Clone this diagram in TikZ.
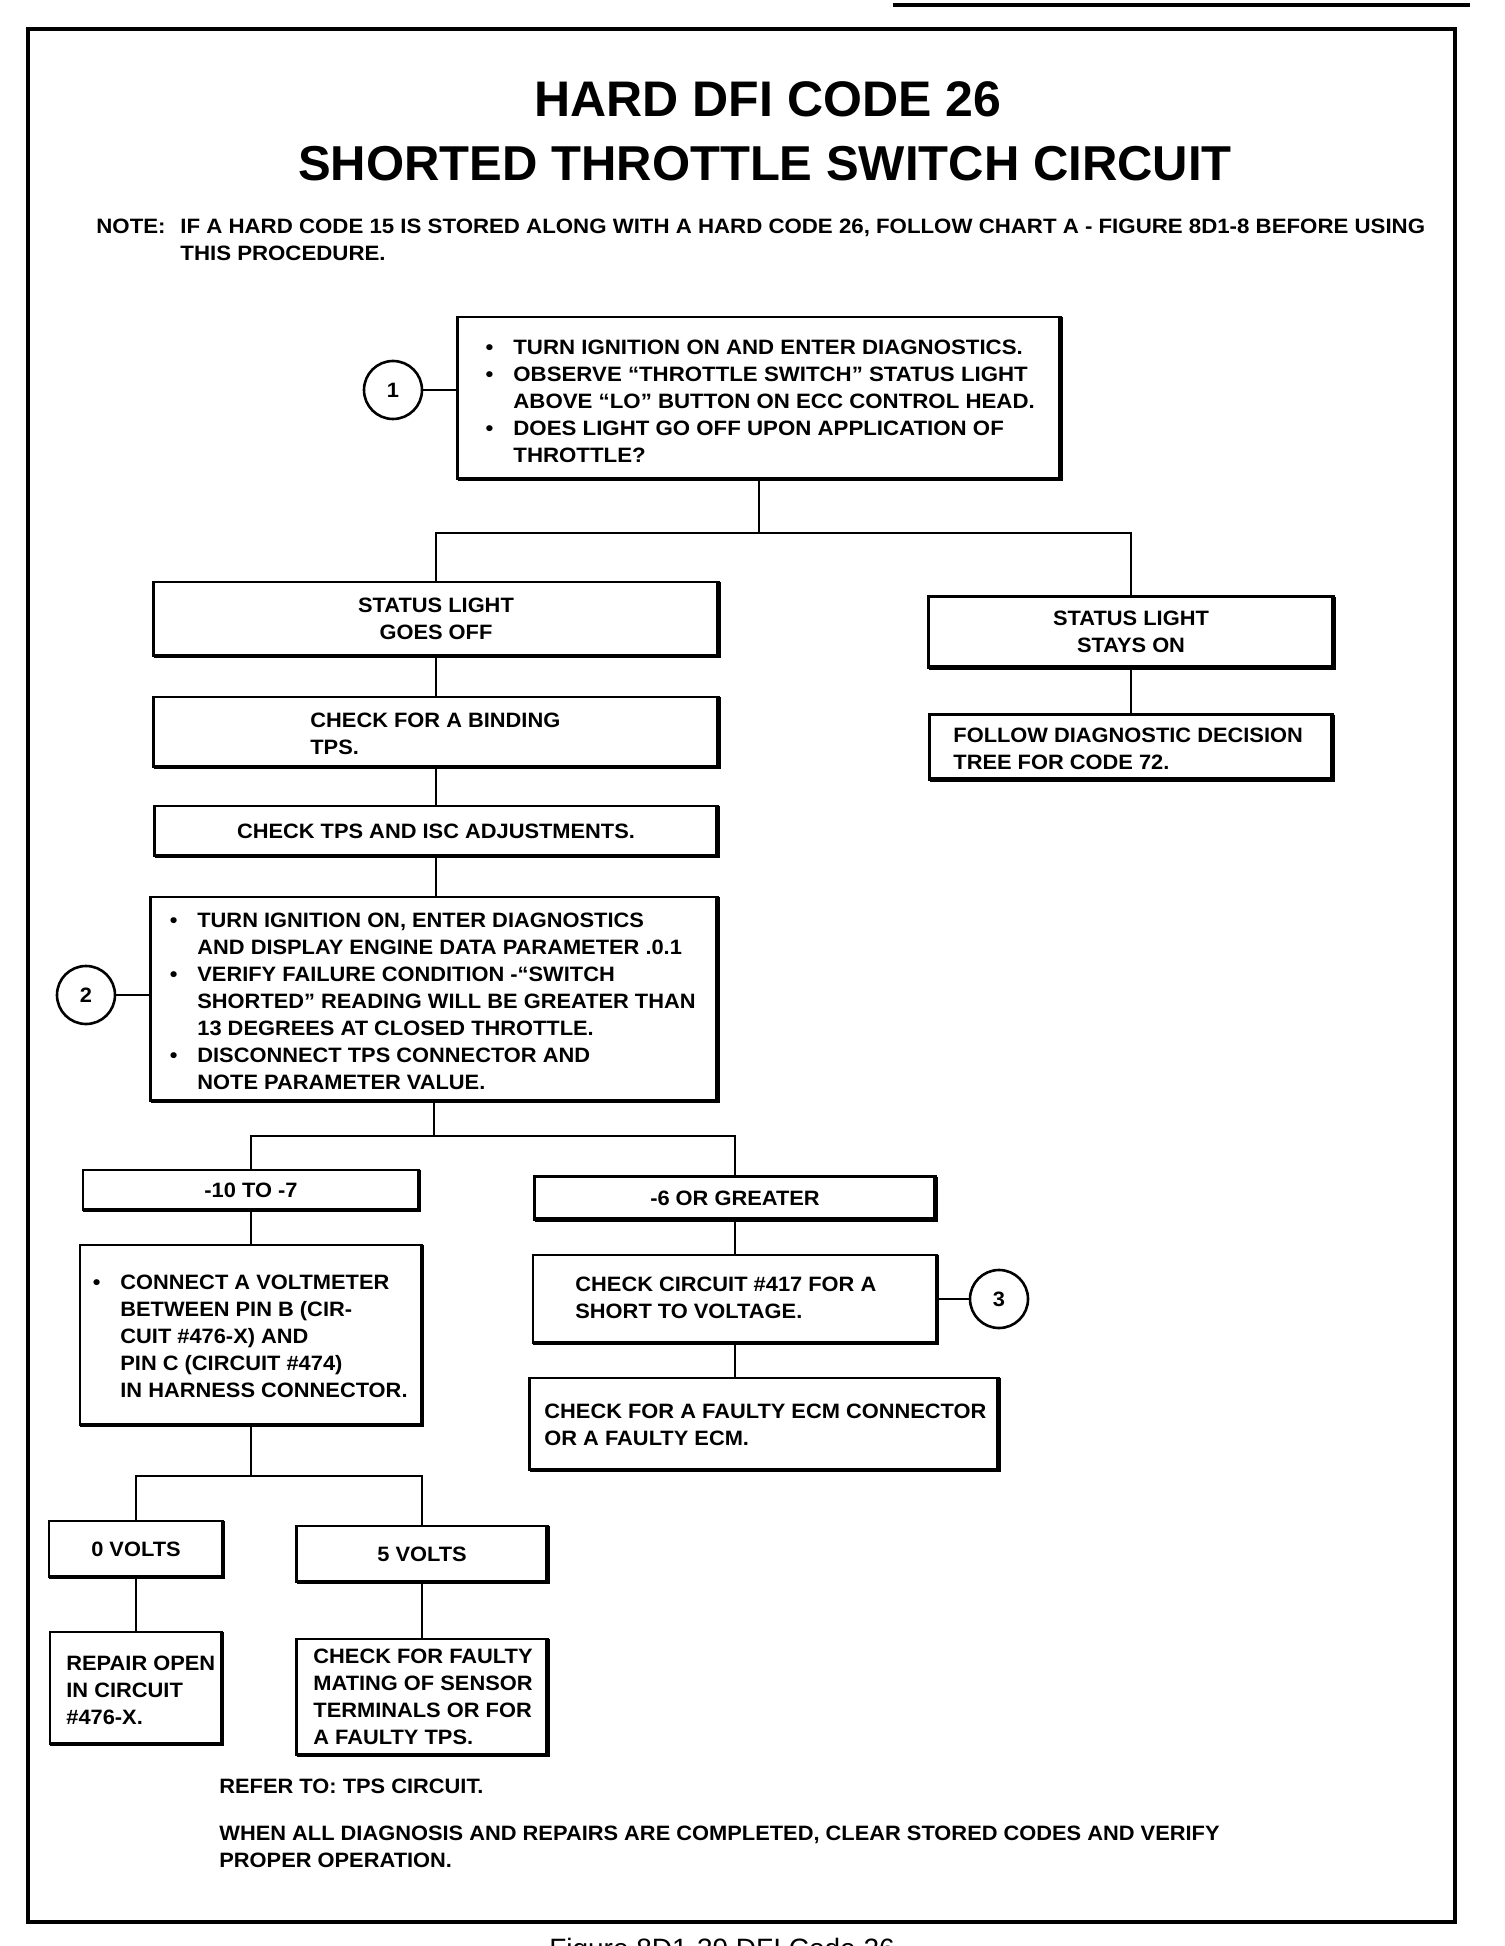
\documentclass[tikz,border=0pt]{standalone}
\usepackage{fontspec}
\setmainfont{Liberation Sans}
\newfontfamily\titlefont{Liberation Sans}
\newfontfamily\bodyfont{Liberation Sans}[FakeStretch=1.05]
\newfontfamily\widefont{Liberation Sans}[FakeStretch=1.07]
\begin{document}
\begin{tikzpicture}[x=0.5pt,y=-0.5pt,
  box/.style={draw, line width=1.4pt, rectangle, inner sep=0pt, outer sep=0pt},
  conn/.style={line width=1.4pt},
  txt/.style={inner sep=0pt, font=\bodyfont\bfseries\fontsize{10.4}{13.5}\selectfont, align=left},
  wtxt/.style={txt, font=\widefont\bfseries\fontsize{10.4}{13.5}\selectfont},
  ctxt/.style={txt, align=center},
  num/.style={draw, circle, line width=1.3pt, minimum size=29pt, inner sep=0pt, outer sep=0pt, font=\bodyfont\bfseries\fontsize{10.4}{13.5}\selectfont},
  heavy/.style={line width=2.4pt}
]
\useasboundingbox (0,0) rectangle (1504,1946);
\clip (0,0) rectangle (1504,1946);
% page header line and frame
\draw[line width=2pt] (893,5) -- (1470,5);
\draw[line width=1.7pt] (28,29) rectangle (1455,1922);
% titles
\node[inner sep=0pt, anchor=base, font=\titlefont\bfseries\fontsize{25}{30}\selectfont] (t1) at (768,117) {HARD DFI CODE 26};
\node[inner sep=0pt, anchor=base, font=\titlefont\bfseries\fontsize{24.5}{30}\selectfont] (t2) at (765,181) {SHORTED THROTTLE SWITCH CIRCUIT};
% note
\node[wtxt, anchor=north west] (note) at (96,219) {NOTE:};
\node[wtxt, anchor=north west] (notetext) at (180,219) {IF A HARD CODE 15 IS STORED ALONG WITH A HARD CODE 26, FOLLOW CHART A - FIGURE 8D1-8 BEFORE USING\\THIS PROCEDURE.};
% box 1
\node[box, minimum width=301.5pt, minimum height=81pt] (b1) at (759,398) {};
\node[wtxt, anchor=west] (b1t) at (513,401) {\llap{•\hspace{10pt}}TURN IGNITION ON AND ENTER DIAGNOSTICS.\\
\llap{•\hspace{10pt}}OBSERVE “THROTTLE SWITCH” STATUS LIGHT\\
ABOVE “LO” BUTTON ON ECC CONTROL HEAD.\\
\llap{•\hspace{10pt}}DOES LIGHT GO OFF UPON APPLICATION OF\\
THROTTLE?};
\node[num] (c1) at (393,390) {1};
% status boxes
\node[box, ctxt, minimum width=282.5pt, minimum height=37pt] (sloff) at (436,619) {STATUS LIGHT\\GOES OFF};
\node[box, ctxt, minimum width=202.5pt, minimum height=35.5pt] (slon) at (1131,632) {STATUS LIGHT\\STAYS ON};
\node[box, minimum width=201.5pt, minimum height=32.5pt] (follow) at (1131,747) {};
\node[txt, anchor=west] (followt) at (953,749) {FOLLOW DIAGNOSTIC DECISION\\TREE FOR CODE 72.};
\node[box, minimum width=282.5pt, minimum height=35pt] (binding) at (436,732) {};
\node[txt, anchor=west] (bindingt) at (310,734) {CHECK FOR A BINDING\\TPS.};
\node[box, ctxt, minimum width=281.5pt, minimum height=25pt] (tps) at (436,831) {CHECK TPS AND ISC ADJUSTMENTS.};
% box 2
\node[box, minimum width=283.5pt, minimum height=102pt] (b2) at (434,999) {};
\node[txt, anchor=west] (b2t) at (197,1001) {\llap{•\hspace{10pt}}TURN IGNITION ON, ENTER DIAGNOSTICS\\
AND DISPLAY ENGINE DATA PARAMETER .0.1\\
\llap{•\hspace{10pt}}VERIFY FAILURE CONDITION -“SWITCH\\
SHORTED” READING WILL BE GREATER THAN\\
13 DEGREES AT CLOSED THROTTLE.\\
\llap{•\hspace{10pt}}DISCONNECT TPS CONNECTOR AND\\
NOTE PARAMETER VALUE.};
\node[num] (c2) at (86,995) {2};
% readings
\node[box, ctxt, minimum width=168pt, minimum height=20pt] (m10) at (251,1190) {-10 TO -7};
\node[box, ctxt, minimum width=200.5pt, minimum height=21.5pt] (m6) at (735,1198) {-6 OR GREATER};
\node[box, minimum width=171pt, minimum height=90pt] (volt) at (251,1335) {};
\node[txt, anchor=west] (voltt) at (120,1336) {\llap{•\hspace{10pt}}CONNECT A VOLTMETER\\
BETWEEN PIN B (CIR-\\
CUIT \#476-X) AND\\
PIN C (CIRCUIT \#474)\\
IN HARNESS CONNECTOR.};
\node[box, minimum width=202pt, minimum height=44pt] (chk) at (735,1299) {};
\node[txt, anchor=west] (chkt) at (575,1298) {CHECK CIRCUIT \#417 FOR A\\SHORT TO VOLTAGE.};
\node[num] (c3) at (999,1299) {3};
\node[box, minimum width=234.5pt, minimum height=46pt] (ecm) at (764,1424) {};
\node[txt, anchor=west] (ecmt) at (544,1425) {CHECK FOR A FAULTY ECM CONNECTOR\\OR A FAULTY ECM.};
% volts
\node[box, ctxt, minimum width=87pt, minimum height=28pt] (v0) at (136,1549) {0 VOLTS};
\node[box, ctxt, minimum width=125.5pt, minimum height=28pt] (v5) at (422,1554) {5 VOLTS};
\node[box, minimum width=86pt, minimum height=56pt] (repair) at (136,1688) {};
\node[txt, anchor=west] (repairt) at (66,1690) {REPAIR OPEN\\IN CIRCUIT\\\#476-X.};
\node[box, minimum width=125.5pt, minimum height=58pt] (faulty) at (422,1697) {};
\node[txt, anchor=west] (faultyt) at (313,1697) {CHECK FOR FAULTY\\MATING OF SENSOR\\TERMINALS OR FOR\\A FAULTY TPS.};
% heavy bottom/right edges
\foreach \n in {b1,sloff,slon,follow,binding,tps,b2,m10,m6,volt,chk,ecm,v0,v5,repair,faulty}
  \draw[heavy] (\n.north east) -- (\n.south east) -- (\n.south west);
% connectors
\coordinate (j1) at (759,533);
\coordinate (j2) at (434,1136);
\coordinate (j3) at (251,1476);
\draw[conn] (c1.east) -- (c1.east -| b1.west);
\draw[conn] (b1.south) -- (j1);
\draw[conn] (sloff.north) |- (j1) -| (slon.north);
\draw[conn] (slon.south) -- (follow.north);
\draw[conn] (sloff.south) -- (binding.north);
\draw[conn] (binding.south) -- (tps.north);
\draw[conn] (tps.south) -- (tps.south |- b2.north);
\draw[conn] (c2.east) -- (c2.east -| b2.west);
\draw[conn] (b2.south) -- (j2);
\draw[conn] (m10.north) |- (j2) -| (m6.north);
\draw[conn] (m10.south) -- (volt.north);
\draw[conn] (m6.south) -- (chk.north);
\draw[conn] (chk.east) -- (c3.west);
\draw[conn] (chk.south) -- (chk.south |- ecm.north);
\draw[conn] (volt.south) -- (j3);
\draw[conn] (v0.north) |- (j3) -| (v5.north);
\draw[conn] (v0.south) -- (repair.north);
\draw[conn] (v5.south) -- (faulty.north);
% closing notes
\node[txt, anchor=north west] (refer) at (219,1779) {REFER TO: TPS CIRCUIT.};
\node[txt, anchor=north west] (final) at (219,1826) {WHEN ALL DIAGNOSIS AND REPAIRS ARE COMPLETED, CLEAR STORED CODES AND VERIFY\\PROPER OPERATION.};
% caption (cut off at the bottom edge)
\node[inner sep=0pt, anchor=base, font=\fontsize{14}{16}\selectfont] (cap) at (722,1958) {Figure 8D1-39 DFI Code 26};
\end{tikzpicture}
\end{document}
